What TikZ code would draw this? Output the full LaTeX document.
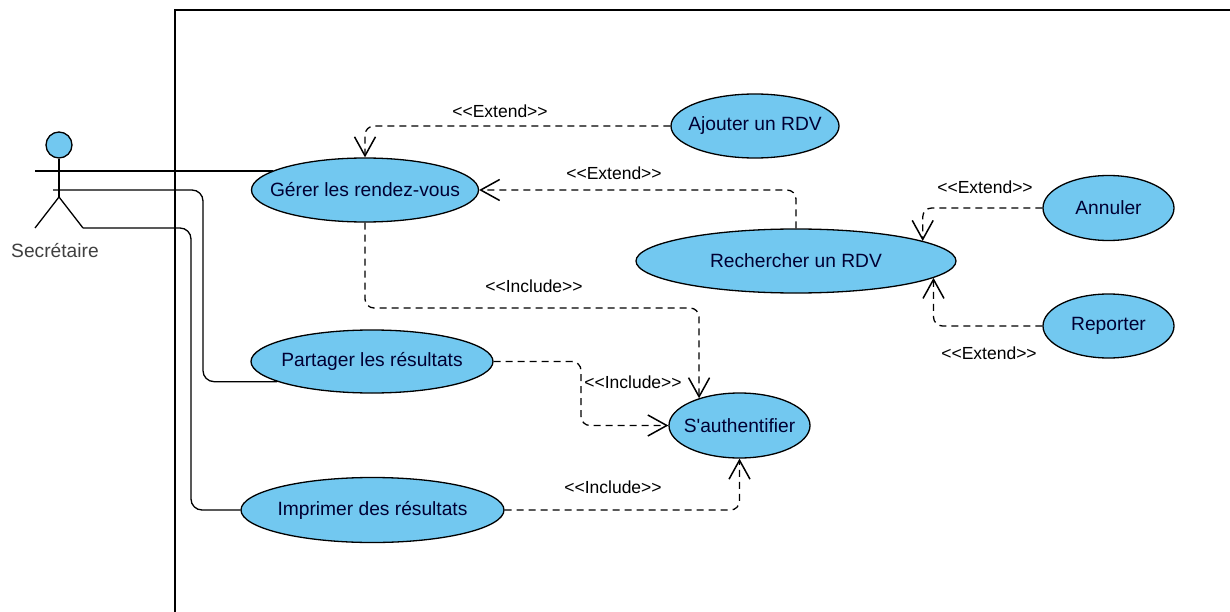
\documentclass[tikz,border=0pt]{standalone}
\usepackage{fontspec}
\usetikzlibrary{arrows.meta,shapes.geometric}
\newfontfamily\umlfont{Liberation Sans}
\definecolor{casefill}{HTML}{72C8F0}
\tikzset{
	usecase/.style={draw,ellipse,fill=casefill,inner xsep=-30pt,inner ysep=0pt,line width=1.3pt,font=\umlfont\fontsize{19.2}{21}\selectfont,text=black!80!blue},
	assoc/.style={line width=1.3pt,rounded corners=11pt},
	dep/.style={line width=1.3pt,dash pattern=on 7pt off 5pt,rounded corners=9pt,-{Straight Barb[length=19pt,width=21pt,line width=1.5pt]}},
	deplabel/.style={font=\umlfont\fontsize{17.5}{19}\selectfont,inner sep=0pt},
	frame/.style={line width=1.3pt}
}
\begin{document}
\begin{tikzpicture}[x=1pt,y=-1pt]
%\draw [help lines,black!20!white] (0,0) grid (1230,612);
\useasboundingbox (0,0) rectangle (1230,612);

\coordinate (framebottom) at (175,612);
\coordinate (frametop) at (175,10);
\coordinate (frameright) at (1230,10);
\draw[frame] (framebottom) -- (frametop) -- (frameright);

\node[usecase,minimum width=227pt,minimum height=64pt] (gerer) at (365,190) {Gérer les rendez-vous};
\node[usecase,minimum width=242pt,minimum height=63pt] (partager) at (372,361.5) {Partager les résultats};
\node[usecase,minimum width=263pt,minimum height=65pt] (imprimer) at (372.5,510) {Imprimer des résultats};
\node[usecase,minimum width=168pt,minimum height=64pt] (ajouter) at (755,126) {Ajouter un RDV};
\node[usecase,minimum width=320pt,minimum height=64pt] (rechercher) at (796,261) {Rechercher un RDV};
\node[usecase,minimum width=131pt,minimum height=65pt] (annuler) at (1108.5,208) {Annuler};
\node[usecase,minimum width=131pt,minimum height=64pt] (reporter) at (1108.5,326) {Reporter};
\node[usecase,minimum width=141pt,minimum height=65pt] (auth) at (739.5,425.5) {S'authentifier};

% actor
\node[draw,circle,fill=casefill,line width=1.3pt,minimum size=26pt,inner sep=0pt] (head) at (59,145) {};
\coordinate (hip) at (59,197);
\coordinate (footl) at (35,228);
\coordinate (footr) at (83,228);
\coordinate (arml) at (35,171);
\coordinate (armr) at (53,190);
\draw[frame] (head) -- (hip);
\draw[frame] (footl) -- (hip) -- (footr);
\node[font=\umlfont\fontsize{19.2}{21}\selectfont,text=black!75,inner sep=0pt] (actorname) at (55,251) {Secrétaire};

\coordinate (bendp) at (203,300);
\coordinate (bendi) at (191,400);
\draw[assoc] (arml) -- (arml -| gerer.168);
\draw[assoc] (armr) -| (bendp) |- (partager.192.6);
\draw[assoc] (footr) -| (bendi) |- (imprimer.west);

\coordinate (bendg) at (530,308);
\coordinate (bendt) at (581,394);
\draw[dep] (ajouter.west) -| (gerer.north);
\draw[dep] (rechercher.north) |- (gerer.east);
\draw[dep] (annuler.west) -| (rechercher.9);
\draw[dep] (reporter.west) -| (rechercher.-7.9);
\draw[dep] (gerer.south) |- (bendg) -| (auth.146.5);
\draw[dep] (partager.east) -| (bendt) |- (auth.west);
\draw[dep] (imprimer.east) -| (auth.south);

\node[deplabel] (ext1) at (500,111) {<<Extend>>};
\node[deplabel] (ext2) at (614,173) {<<Extend>>};
\node[deplabel] (ext3) at (985,187) {<<Extend>>};
\node[deplabel] (ext4) at (989,353) {<<Extend>>};
\node[deplabel] (inc1) at (534,286) {<<Include>>};
\node[deplabel] (inc2) at (633,382) {<<Include>>};
\node[deplabel] (inc3) at (613,487) {<<Include>>};

\end{tikzpicture}
\end{document}
